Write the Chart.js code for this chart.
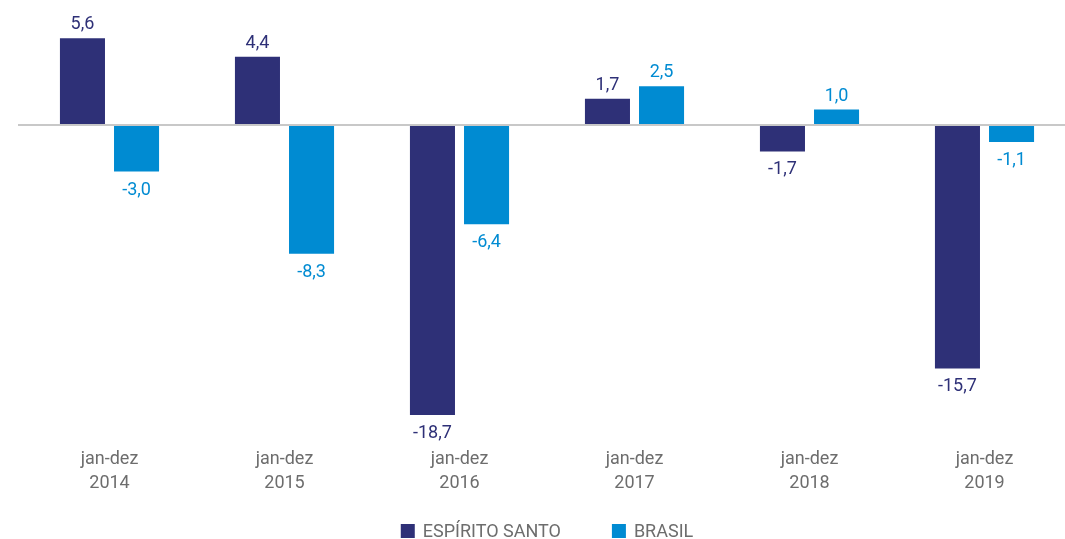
<!DOCTYPE html>
<html>
<head>
<meta charset="utf-8">
<script src="https://cdn.jsdelivr.net/npm/chart.js@4/dist/chart.umd.min.js"></script>
<style>
  html, body { margin: 0; padding: 0; background: #fff; overflow: hidden; }
  #wrap { width: 1065px; height: 539px; overflow: hidden; }
</style>
</head>
<body>
<div id="wrap"><canvas id="chart" width="1072" height="539"></canvas></div>
<script>
// categories (two-line tick labels)
const periods = [
  ['jan-dez', '2014'],
  ['jan-dez', '2015'],
  ['jan-dez', '2016'],
  ['jan-dez', '2017'],
  ['jan-dez', '2018'],
  ['jan-dez', '2019'],
];

// series values (%)
const espiritoSanto = [5.6, 4.4, -18.7, 1.7, -1.7, -15.7];
const brasil        = [-3.0, -8.3, -6.4, 2.5, 1.0, -1.1];

const navy = '#2E3077';
const blue = '#008BD2';
const grey = '#6d6d6d';
const font = 'Roboto';

// value labels above / below each bar
const barLabels = {
  id: 'barLabels',
  afterDatasetsDraw(chart) {
    const ctx = chart.ctx;
    ctx.save();
    ctx.font = '18px ' + font;
    ctx.textAlign = 'center';
    ctx.textBaseline = 'alphabetic';
    chart.data.datasets.forEach((ds, i) => {
      const meta = chart.getDatasetMeta(i);
      ctx.fillStyle = ds.backgroundColor;
      meta.data.forEach((bar, j) => {
        const v = ds.data[j];
        const txt = v.toFixed(1).replace('.', ',');
        const y = v >= 0 ? bar.y - 9 : bar.y + 23;
        ctx.fillText(txt, bar.x, y);
      });
    });
    ctx.restore();
  }
};

// legend row at the bottom (square + label, wide gap between items)
const bottomLegend = {
  id: 'bottomLegend',
  afterDraw(chart) {
    const ctx = chart.ctx;
    const box = 14, gapText = 8, gapItem = 51;
    const y = chart.height - 8; // vertical centre of the row
    ctx.save();
    ctx.font = '18px ' + font;
    const items = chart.data.datasets.map(ds => ({
      text: ds.label, color: ds.backgroundColor, w: ctx.measureText(ds.label).width
    }));
    const total = items.reduce((s, it) => s + box + gapText + it.w, 0) + gapItem * (items.length - 1);
    const area = chart.chartArea;
    let x = (area.left + area.right) / 2 - total / 2;
    ctx.textBaseline = 'middle';
    ctx.textAlign = 'left';
    items.forEach(it => {
      ctx.fillStyle = it.color;
      ctx.fillRect(x, y - box / 2, box, box);
      ctx.fillStyle = grey;
      ctx.fillText(it.text, x + box + gapText, y + 1);
      x += box + gapText + it.w + gapItem;
    });
    ctx.restore();
  }
};

new Chart(document.getElementById('chart').getContext('2d'), {
  type: 'bar',
  data: {
    labels: periods,
    datasets: [
      { label: 'ESPÍRITO SANTO', data: espiritoSanto, backgroundColor: navy },
      { label: 'BRASIL', data: brasil, backgroundColor: blue }
    ]
  },
  options: {
    responsive: false,
    animation: false,
    categoryPercentage: 0.618,
    barPercentage: 0.833,
    layout: { padding: { left: 18, top: 32, right: 0, bottom: 32 } },
    plugins: {
      tooltip: { enabled: false },
      legend: { display: false }
    },
    scales: {
      x: {
        grid: { display: false, drawTicks: false },
        border: { display: false },
        ticks: {
          color: grey,
          padding: 12,
          font: { family: font, size: 18, lineHeight: 1.33 },
          maxRotation: 0,
          autoSkip: false
        }
      },
      y: {
        min: -20,
        max: 6,
        border: { display: false },
        ticks: { display: false, stepSize: 1 },
        grid: {
          drawTicks: true,
          tickLength: 4,
          lineWidth: 2,
          color: c => c.tick && c.tick.value === 0 ? '#c8c8c8' : 'rgba(0,0,0,0)'
        }
      }
    }
  },
  plugins: [barLabels, bottomLegend]
});
</script>
</body>
</html>
